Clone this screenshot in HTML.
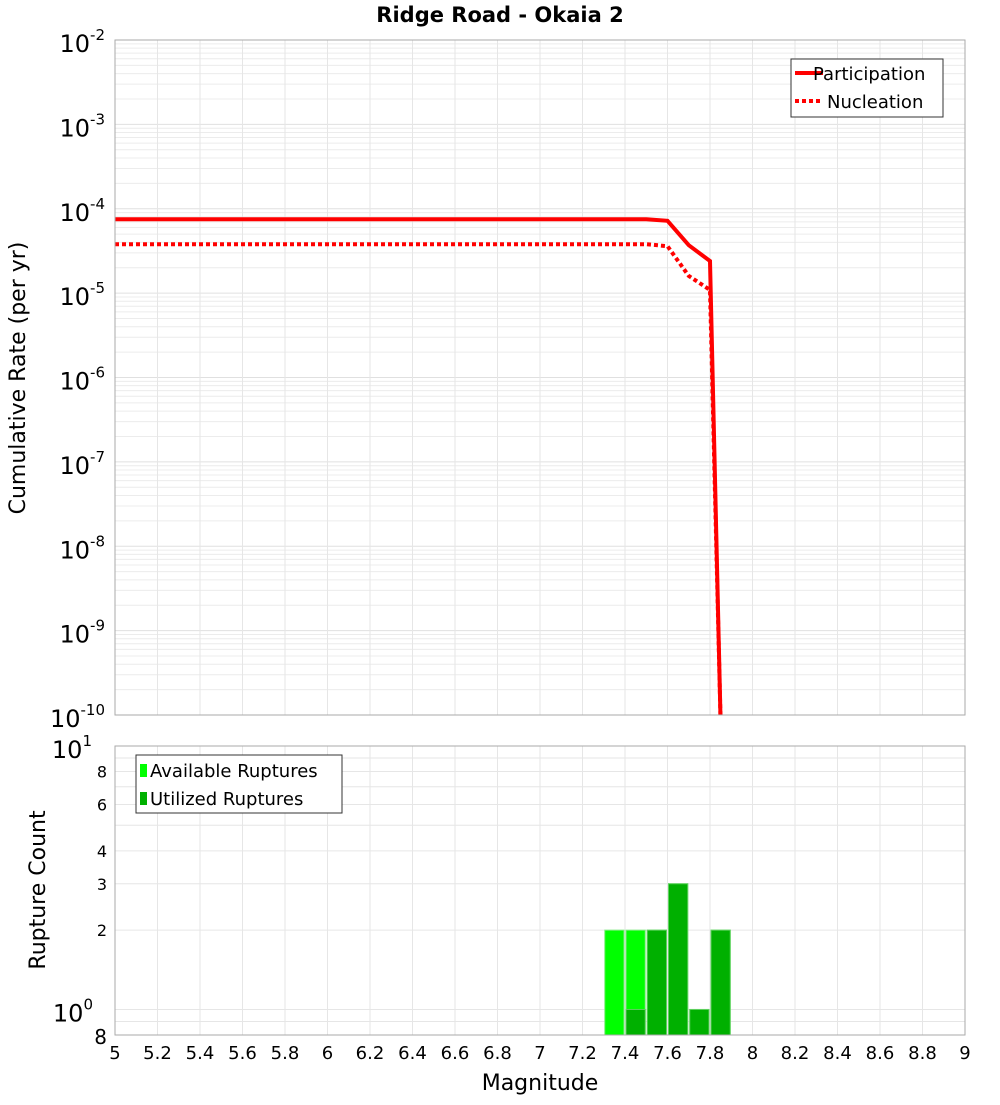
<!DOCTYPE html>
<html><head><meta charset="utf-8"><style>
body{margin:0;background:#fff;font-family:"Liberation Sans","DejaVu Sans",sans-serif}
svg text{font-family:"DejaVu Sans","Liberation Sans",sans-serif}
</style></head><body>
<svg id="c" width="1000" height="1100" xmlns="http://www.w3.org/2000/svg">
<text x="500" y="22" text-anchor="middle" font-size="21" font-weight="bold">Ridge Road - Okaia 2</text>
<g id="topG"></g>
<g id="botG"></g>
<text transform="translate(25,378) rotate(-90)" text-anchor="middle" font-size="22">Cumulative Rate (per yr)</text>
<text transform="translate(45,890) rotate(-90)" text-anchor="middle" font-size="22">Rupture Count</text>
<text x="540" y="1090" text-anchor="middle" font-size="22">Magnitude</text>
</svg>
<script>
const partMags=[5.0,7.5,7.6,7.7,7.8,7.85];
const partVals=[7.5e-5,7.5e-5,7.2e-5,3.7e-5,2.4e-5,8e-11];
const nuclMags=[5.0,7.5,7.6,7.7,7.8,7.85];
const nuclVals=[3.8e-5,3.8e-5,3.6e-5,1.6e-5,1.09e-5,8e-11];
const binStarts=[7.3,7.4,7.5,7.6,7.7,7.8];
const availCounts=[2,2,2,3,1,2];
const usedCounts=[0,1,2,3,1,2];
const xTicks=[5,5.2,5.4,5.6,5.8,6,6.2,6.4,6.6,6.8,7,7.2,7.4,7.6,7.8,8,8.2,8.4,8.6,8.8,9];
const rateExps=[-2,-3,-4,-5,-6,-7,-8,-9,-10];
const countTicks=[0.8,1,2,3,4,6,8,10];

const NS="http://www.w3.org/2000/svg";
const L=115,R=965,T1=40,B1=715,T2=746,B2=1035;
const X=m=>L+(m-5)/(9-5)*(R-L);
const Y1=v=>T1+(-2-Math.log10(v))/8*(B1-T1);
const lmin=Math.log10(0.8);
const Y2=v=>T2+(1-Math.log10(v))/(1-lmin)*(B2-T2);
function el(p,t,a){const e=document.createElementNS(NS,t);for(const k in a)e.setAttribute(k,a[k]);p.appendChild(e);return e;}
function sup(p,x,y,fs,base,exp,name){const t=el(p,'text',{x:x,y:y,'text-anchor':'end','font-size':fs});

const a=el(t,'tspan',{});a.textContent=base;const b=el(t,'tspan',{dy:-12,'font-size':15});b.textContent=exp;return t;}
const topG=document.getElementById('topG'),botG=document.getElementById('botG');

for(let d=-10;d<-2;d++){for(let k=1;k<10;k++){const y=Y1(k*Math.pow(10,d));
const g=el(topG,'line',{x1:L,x2:R,y1:y,y2:y,stroke:k==1?'#e0e0e0':'#ececec','stroke-width':1});
}}
xTicks.forEach(m=>{const g=el(topG,'line',{x1:X(m),x2:X(m),y1:T1,y2:B1,stroke:'#e6e6e6'});

const g2=el(botG,'line',{x1:X(m),x2:X(m),y1:T2,y2:B2,stroke:'#e6e6e6'});
});
rateExps.forEach(e=>{sup(topG,105,Y1(Math.pow(10,e))+12,24,'10',String(e),'y-tick-label');});
const defs=el(document.getElementById('c'),'defs',{});
const cp=el(defs,'clipPath',{id:'cp1'});el(cp,'rect',{x:L,y:T1,width:R-L,height:B1-T1});
function line(mags,vals,dash,name){const p=el(topG,'path',{d:mags.map((m,i)=>(i?'L':'M')+X(m)+','+Y1(vals[i])).join(''),fill:'none',stroke:'#ff0000','stroke-width':4,'clip-path':'url(#cp1)'});
if(dash)p.setAttribute('stroke-dasharray','4,3');
}
line(nuclMags,nuclVals,true,'nucleation-line');
line(partMags,partVals,false,'participation-line');
const fr=el(topG,'rect',{x:L,y:T1,width:R-L,height:B1-T1,fill:'none',stroke:'#aaa'});

const lg=el(topG,'g',{});


el(lg,'rect',{x:791,y:59,width:152,height:58,fill:'#fff',stroke:'#333'});
el(lg,'line',{x1:795,x2:823,y1:73,y2:73,stroke:'#f00','stroke-width':4});
el(lg,'line',{x1:795,x2:823,y1:101,y2:101,stroke:'#f00','stroke-width':4,'stroke-dasharray':'4,3'});
const t1=el(lg,'text',{x:813,y:80,'font-size':18});t1.textContent='Participation';
const t2=el(lg,'text',{x:827,y:108,'font-size':18});t2.textContent='Nucleation';

[0.9,1,2,3,4,5,6,7,8,9].forEach(v=>{const y=Y2(v);const g=el(botG,'line',{x1:L,x2:R,y1:y,y2:y,stroke:'#e6e6e6'});
});
countTicks.forEach(v=>{const y=Y2(v);
if(v==1||v==10){sup(botG,v==1?93:92,y+12,24,'10',v==1?'0':'1','y-tick-label');}
else{const t=el(botG,'text',{x:107,y:y+(v==0.8?9:6),'text-anchor':'end','font-size':v==0.8?20:16});t.textContent=v==0.8?'8':String(v);
}});
binStarts.forEach((m,i)=>{const x0=X(m)+1,w=X(m+0.1)-X(m)-2;
const a=el(botG,'rect',{x:x0,y:Y2(availCounts[i]),width:w,height:B2-Y2(availCounts[i]),fill:'#00ff00',stroke:'#7fef7f','stroke-width':1});

if(usedCounts[i]>0){const u=el(botG,'rect',{x:x0,y:Y2(usedCounts[i]),width:w,height:B2-Y2(usedCounts[i]),fill:'#00b000',stroke:'#5fd05f','stroke-width':1});
}});
const fr2=el(botG,'rect',{x:L,y:T2,width:R-L,height:B2-T2,fill:'none',stroke:'#aaa'});

xTicks.forEach(m=>{const t=el(botG,'text',{x:X(m),y:1059,'text-anchor':'middle','font-size':18});
t.textContent=String(m);});
const lg2=el(botG,'g',{});


el(lg2,'rect',{x:136,y:755,width:206,height:58,fill:'#fff',stroke:'#333'});
el(lg2,'rect',{x:140,y:764,width:7,height:13,fill:'#00ff00'});
el(lg2,'rect',{x:140,y:792,width:7,height:13,fill:'#00b000'});
const t3=el(lg2,'text',{x:150,y:777,'font-size':18});t3.textContent='Available Ruptures';
const t4=el(lg2,'text',{x:150,y:805,'font-size':18});t4.textContent='Utilized Ruptures';
</script>
</body></html>
